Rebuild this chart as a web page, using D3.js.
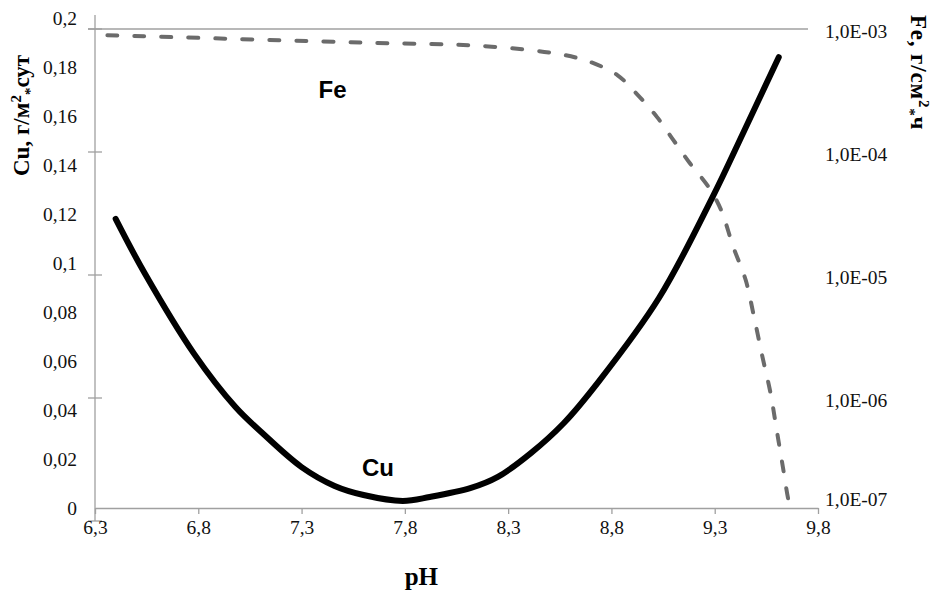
<!DOCTYPE html>
<html>
<head>
<meta charset="utf-8">
<script src="https://cdn.jsdelivr.net/npm/d3@7"></script>
<style>
  body { margin: 0; background: #fff; }
  text { font-family: "Liberation Serif", "Times New Roman", serif; }
</style>
</head>
<body>
<div id="graph-holder"></div>
<script>
// Cu curve, left linear axis
var cuPH = [6.40, 6.54, 6.78, 6.98, 7.11, 7.30, 7.46, 7.60, 7.79, 7.92, 8.12, 8.25, 8.41, 8.57, 8.74, 9.03, 9.29, 9.44, 9.61];
var cuVal = [0.118, 0.0959, 0.0629, 0.0412, 0.0306, 0.0167, 0.0090, 0.0053, 0.0029, 0.0045, 0.0082, 0.0127, 0.0224, 0.0347, 0.0518, 0.0857, 0.127, 0.1535, 0.184];

// Fe curve, right log axis
var fePH = [6.36, 7.66, 8.16, 8.56, 8.71, 8.83, 8.92, 9.02, 9.10, 9.18, 9.27, 9.33, 9.39, 9.45, 9.49, 9.53, 9.57, 9.60, 9.63, 9.66, 9.68];
var feVal = [8.9e-4, 7.7e-4, 7.3e-4, 6.2e-4, 5.3e-4, 4.2e-4, 3.0e-4, 1.93e-4, 1.25e-4, 8.1e-5, 5.2e-5, 3.4e-5, 1.69e-5, 9.1e-6, 4.6e-6, 2.2e-6, 1.1e-6, 5.5e-7, 2.75e-7, 1.4e-7, 1.1e-7];

var xTicks = [6.3, 6.8, 7.3, 7.8, 8.3, 8.8, 9.3, 9.8];
var cuTicks = [0, 0.02, 0.04, 0.06, 0.08, 0.1, 0.12, 0.14, 0.16, 0.18, 0.2];
var feTicks = [1e-3, 1e-4, 1e-5, 1e-6, 1e-7];

var width = 935, height = 592;
var margin = { top: 18, left: 95, bottom: 84, right: 117 };

var svg = d3.select("#graph-holder").append("svg")
  .attr("width", width)
  .attr("height", height);

var x = d3.scaleLinear().domain([6.3, 9.8]).range([margin.left, width - margin.right]);
var yCu = d3.scaleLinear().domain([0, 0.2]).range([height - margin.bottom, margin.top]);
var yFe = d3.scaleLog().domain([1e-7, 1e-3]).range([521, 29]);

var comma = function(d) { return String(d).replace(".", ","); };
var feFmt = function(d) {
  var e = Math.round(Math.log10(d));
  return "1,0E-" + (e > -10 ? "0" : "") + (-e);
};
var axisColor = "#a0a0a0";

// top line at the upper log tick
svg.append("line")
  .attr("x1", x(6.3) - 7).attr("x2", x(9.8) - 10)
  .attr("y1", yFe(1e-3)).attr("y2", yFe(1e-3))
  .attr("stroke", axisColor).attr("stroke-width", 1.3);

// left vertical axis line with log tick marks
svg.append("line")
  .attr("x1", x(6.3)).attr("x2", x(6.3))
  .attr("y1", yCu(0.2) - 3).attr("y2", yFe(1e-7))
  .attr("stroke", axisColor).attr("stroke-width", 1.3);
svg.selectAll(".ftick").data(feTicks).enter().append("line")
  .attr("class", "ftick")
  .attr("x1", x(6.3) - 7).attr("x2", x(6.3) + 7)
  .attr("y1", function(d) { return yFe(d); })
  .attr("y2", function(d) { return yFe(d); })
  .attr("stroke", axisColor).attr("stroke-width", 1.3);

// left labels
var gl = svg.append("g")
  .attr("transform", "translate(" + (x(6.3) - 18) + ",0)")
  .call(d3.axisLeft(yCu).tickValues(cuTicks).tickSize(0).tickPadding(0).tickFormat(comma));
gl.select(".domain").remove();
gl.selectAll("text").style("font-size", "19.5px").attr("fill", "#111")
  .style("font-family", "'Liberation Serif', serif");

// right labels
var gr = svg.append("g")
  .attr("transform", "translate(" + (x(9.8) + 7) + ",2)")
  .call(d3.axisRight(yFe).tickValues(feTicks).tickSize(0).tickPadding(0).tickFormat(feFmt));
gr.select(".domain").remove();
gr.selectAll("text").style("font-size", "19.5px").attr("fill", "#111")
  .style("font-family", "'Liberation Serif', serif");
gr.selectAll(".tick").filter(function(d) { return d === 1e-7; })
  .select("text").attr("dy", "-0.9em");

// x axis
var gx = svg.append("g")
  .attr("transform", "translate(0," + yCu(0) + ")")
  .call(d3.axisBottom(x).tickValues(xTicks).tickSize(6).tickSizeOuter(0).tickPadding(6).tickFormat(comma));
gx.select(".domain").attr("stroke", axisColor).attr("stroke-width", 1.3);
gx.selectAll(".tick line").attr("stroke", axisColor).attr("stroke-width", 1.3);
gx.selectAll("text").style("font-size", "19.5px").attr("fill", "#111")
  .style("font-family", "'Liberation Serif', serif");

// clip for the curves
svg.append("clipPath").attr("id", "plot-clip").append("rect")
  .attr("x", x(6.3)).attr("y", 0)
  .attr("width", x(9.8) - x(6.3)).attr("height", yCu(0));

var cuData = cuPH.map(function(p, i) { return { ph: p, v: cuVal[i] }; });
var feData = fePH.map(function(p, i) { return { ph: p, v: feVal[i] }; });

svg.append("path")
  .datum(feData)
  .attr("clip-path", "url(#plot-clip)")
  .attr("fill", "none")
  .attr("stroke", "#6b6b6b")
  .attr("stroke-width", 4)
  .attr("stroke-linecap", "round")
  .attr("stroke-dasharray", "10 17")
  .attr("d", d3.line().curve(d3.curveCatmullRom)
    .x(function(d) { return x(d.ph); })
    .y(function(d) { return yFe(d.v); }));

svg.append("path")
  .datum(cuData)
  .attr("fill", "none")
  .attr("stroke", "#000")
  .attr("stroke-width", 6)
  .attr("stroke-linecap", "round")
  .attr("d", d3.line().curve(d3.curveCatmullRom)
    .x(function(d) { return x(d.ph); })
    .y(function(d) { return yCu(d.v); }));

// series labels
svg.append("text").text("Fe")
  .attr("x", x(7.45)).attr("y", 98)
  .attr("text-anchor", "middle")
  .style("font-family", "'Liberation Sans', Arial, sans-serif")
  .style("font-weight", "bold").style("font-size", "24px");
svg.append("text").text("Cu")
  .attr("x", x(7.67)).attr("y", 476)
  .attr("text-anchor", "middle")
  .style("font-family", "'Liberation Sans', Arial, sans-serif")
  .style("font-weight", "bold").style("font-size", "24px");

// axis titles
svg.append("text").text("pH")
  .attr("x", x(7.88)).attr("y", 585)
  .attr("text-anchor", "middle")
  .style("font-weight", "bold").style("font-size", "25px");

var lt = svg.append("text")
  .attr("transform", "translate(29,176) rotate(-90)")
  .style("font-weight", "bold").style("font-size", "23px");
lt.append("tspan").text("Cu, г/м");
lt.append("tspan").text("2").attr("dy", -8).style("font-size", "15px");
lt.append("tspan").text("*").attr("dy", 14).style("font-size", "15px");
lt.append("tspan").text("сут").attr("dy", -6);

var rt = svg.append("text")
  .attr("transform", "translate(911,15) rotate(90)")
  .style("font-weight", "bold").style("font-size", "23px")
  .style("letter-spacing", "0.8px");
rt.append("tspan").text("Fe, г/см");
rt.append("tspan").text("2").attr("dy", -8).style("font-size", "15px");
rt.append("tspan").text("*").attr("dy", 14).style("font-size", "15px");
rt.append("tspan").text("ч").attr("dy", -6);
</script>
</body>
</html>
